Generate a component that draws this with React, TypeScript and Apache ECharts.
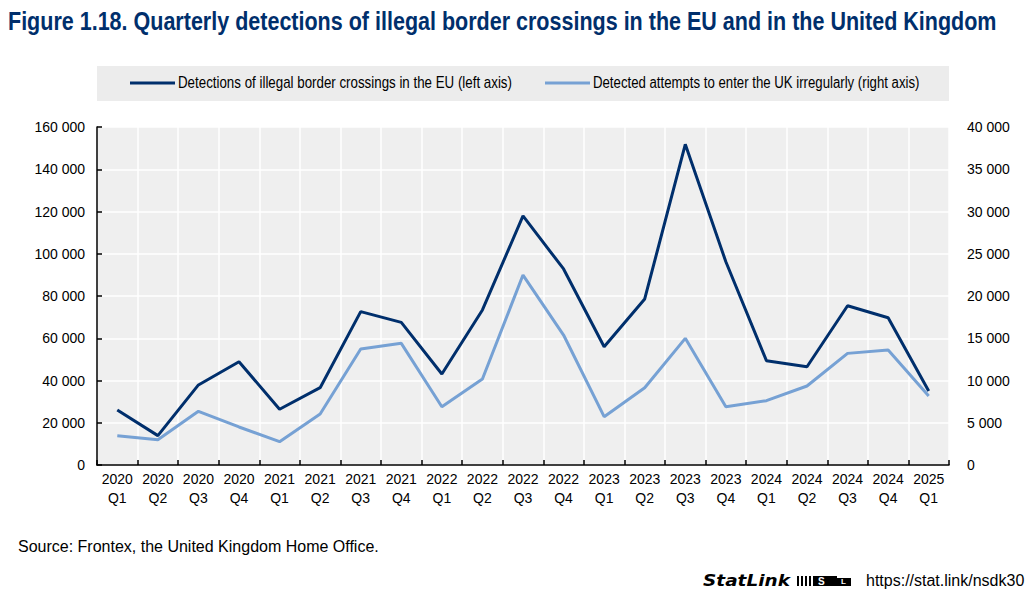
import React, { useEffect, useRef } from "react";
import * as echarts from "echarts";

const categories = [
  "2020\nQ1", "2020\nQ2", "2020\nQ3", "2020\nQ4",
  "2021\nQ1", "2021\nQ2", "2021\nQ3", "2021\nQ4",
  "2022\nQ1", "2022\nQ2", "2022\nQ3", "2022\nQ4",
  "2023\nQ1", "2023\nQ2", "2023\nQ3", "2023\nQ4",
  "2024\nQ1", "2024\nQ2", "2024\nQ3", "2024\nQ4",
  "2025\nQ1",
];

const euDetections = [
  26000, 13900, 37900, 48900,
  26400, 36600, 72600, 67500,
  43100, 73400, 117900, 92800,
  56000, 78600, 151800, 96200,
  49400, 46500, 75400, 69700,
  35000,
];

const ukAttempts = [
  3470, 3000, 6350, 4500,
  2760, 6030, 13720, 14400,
  6900, 10170, 22480, 15380,
  5720, 9150, 14990, 6900,
  7610, 9350, 13210, 13600,
  8160,
];

const seriesNames = [
  "Detections of illegal border crossings in the EU (left axis)",
  "Detected attempts to enter the UK irregularly (right axis)",
];

const titleText =
  "Figure 1.18. Quarterly detections of illegal border crossings in the EU and in the United Kingdom";
const sourceText = "Source: Frontex, the United Kingdom Home Office.";
const linkText = "https://stat.link/nsdk30";

const SANS = "'Liberation Sans', Arial, sans-serif";

const fmt = (v: number) => String(v).replace(/\B(?=(\d{3})+(?!\d))/g, " ");

function measure(text: string, font: string): number {
  const c = document.createElement("canvas").getContext("2d");
  if (!c) return 1;
  c.font = font;
  return c.measureText(text).width || 1;
}

export default function App() {
  const ref = useRef<HTMLDivElement>(null);
  useEffect(() => {
    document.body.style.margin = "0";
    if (!ref.current) return;
    const chart = echarts.init(ref.current, undefined, { renderer: "svg" });
    const dark = "#002f6c";
    const light = "#76a1d4";

    const titleFont = "bold 25px 'Liberation Sans'";
    const titleScale = 989 / measure(titleText, titleFont);
    const legFont = "16px 'Liberation Sans'";
    const leg1Scale = 334 / measure(seriesNames[0], legFont);
    const leg2Scale = 327 / measure(seriesNames[1], legFont);
    const slFont = "italic bold 15px 'DejaVu Sans'";
    const slScale = 87 / measure("StatLink", slFont);

    chart.setOption({
      animation: false,
      backgroundColor: "#ffffff",
      graphic: [
        {
          type: "text",
          x: 8,
          y: 9,
          scaleX: titleScale,
          style: {
            text: titleText,
            fontFamily: SANS,
            fontWeight: "bold",
            fontSize: 25,
            fill: "#002f6c",
            verticalAlign: "top",
          },
        },
        {
          type: "rect",
          shape: { x: 97, y: 66, width: 852, height: 35 },
          style: { fill: "#ececec" },
          z: -10,
        },
        {
          type: "line",
          shape: { x1: 130, y1: 83, x2: 175, y2: 83 },
          style: { stroke: dark, lineWidth: 3 },
        },
        {
          type: "text",
          x: 178,
          y: 83,
          scaleX: leg1Scale,
          style: { text: seriesNames[0], fontFamily: SANS, fontSize: 16, fill: "#000", verticalAlign: "middle" },
        },
        {
          type: "line",
          shape: { x1: 545, y1: 83, x2: 590, y2: 83 },
          style: { stroke: light, lineWidth: 3 },
        },
        {
          type: "text",
          x: 593,
          y: 83,
          scaleX: leg2Scale,
          style: { text: seriesNames[1], fontFamily: SANS, fontSize: 16, fill: "#000", verticalAlign: "middle" },
        },
        {
          type: "text",
          left: 18,
          top: 538,
          style: { text: sourceText, fontFamily: SANS, fontSize: 16, fill: "#000" },
        },
        {
          type: "text",
          x: 703,
          y: 581,
          scaleX: slScale,
          style: {
            text: "StatLink",
            fontFamily: "'DejaVu Sans', sans-serif",
            fontStyle: "italic",
            fontWeight: "bold",
            fontSize: 15,
            fill: "#000",
            verticalAlign: "middle",
          },
        },
        { type: "rect", shape: { x: 797, y: 576, width: 2, height: 10 }, style: { fill: "#000" } },
        { type: "rect", shape: { x: 801, y: 576, width: 2, height: 10 }, style: { fill: "#000" } },
        { type: "rect", shape: { x: 805, y: 576, width: 2, height: 10 }, style: { fill: "#000" } },
        { type: "rect", shape: { x: 809, y: 576, width: 2, height: 10 }, style: { fill: "#000" } },
        { type: "rect", shape: { x: 813, y: 576, width: 24, height: 10 }, style: { fill: "#000" } },
        { type: "rect", shape: { x: 837, y: 578, width: 14, height: 8 }, style: { fill: "#000" } },
        {
          type: "text",
          left: 818,
          top: 576,
          style: { text: "S", fontFamily: SANS, fontWeight: "bold", fontSize: 10, fill: "#fff" },
        },
        {
          type: "text",
          left: 841,
          top: 577,
          style: { text: "L", fontFamily: SANS, fontWeight: "bold", fontSize: 8, fill: "#fff" },
        },
        {
          type: "text",
          left: 866,
          top: 572,
          style: { text: linkText, fontFamily: SANS, fontSize: 16, fill: "#000" },
        },
      ],
      grid: {
        left: 97,
        right: 86,
        top: 127,
        bottom: 138,
        show: true,
        backgroundColor: "#efefef",
        borderWidth: 0,
        containLabel: false,
      },
      xAxis: {
        type: "category",
        data: categories,
        boundaryGap: true,
        axisLine: { show: true, lineStyle: { color: "#000", width: 1.5 } },
        axisTick: { show: true, inside: true, length: 5, interval: 0, lineStyle: { color: "#000", width: 1.5 } },
        axisLabel: {
          interval: 0,
          fontFamily: SANS,
          fontSize: 14,
          color: "#000",
          lineHeight: 19,
          margin: 4,
        },
        splitLine: { show: true, interval: 0, lineStyle: { color: "#ffffff", width: 1.5 } },
      },
      yAxis: [
        {
          type: "value",
          min: 0,
          max: 160000,
          interval: 20000,
          axisLine: { show: true, lineStyle: { color: "#000", width: 1.5 } },
          axisTick: { show: true, inside: true, length: 5, lineStyle: { color: "#000", width: 1.5 } },
          axisLabel: { formatter: fmt, fontFamily: SANS, fontSize: 14, color: "#000", margin: 12 },
          splitLine: { show: true, lineStyle: { color: "#ffffff", width: 1.5 } },
        },
        {
          type: "value",
          min: 0,
          max: 40000,
          interval: 5000,
          position: "right",
          axisLine: { show: false },
          axisTick: { show: false },
          axisLabel: { formatter: fmt, fontFamily: SANS, fontSize: 14, color: "#000", margin: 18 },
          splitLine: { show: false },
        },
      ],
      series: [
        {
          name: seriesNames[0],
          type: "line",
          yAxisIndex: 0,
          data: euDetections,
          symbol: "none",
          lineStyle: { color: dark, width: 3 },
          itemStyle: { color: dark },
          z: 3,
        },
        {
          name: seriesNames[1],
          type: "line",
          yAxisIndex: 1,
          data: ukAttempts,
          symbol: "none",
          lineStyle: { color: light, width: 3 },
          itemStyle: { color: light },
          z: 2,
        },
      ],
    });
    return () => chart.dispose();
  }, []);
  return <div ref={ref} style={{ width: 1035, height: 603 }} />;
}
